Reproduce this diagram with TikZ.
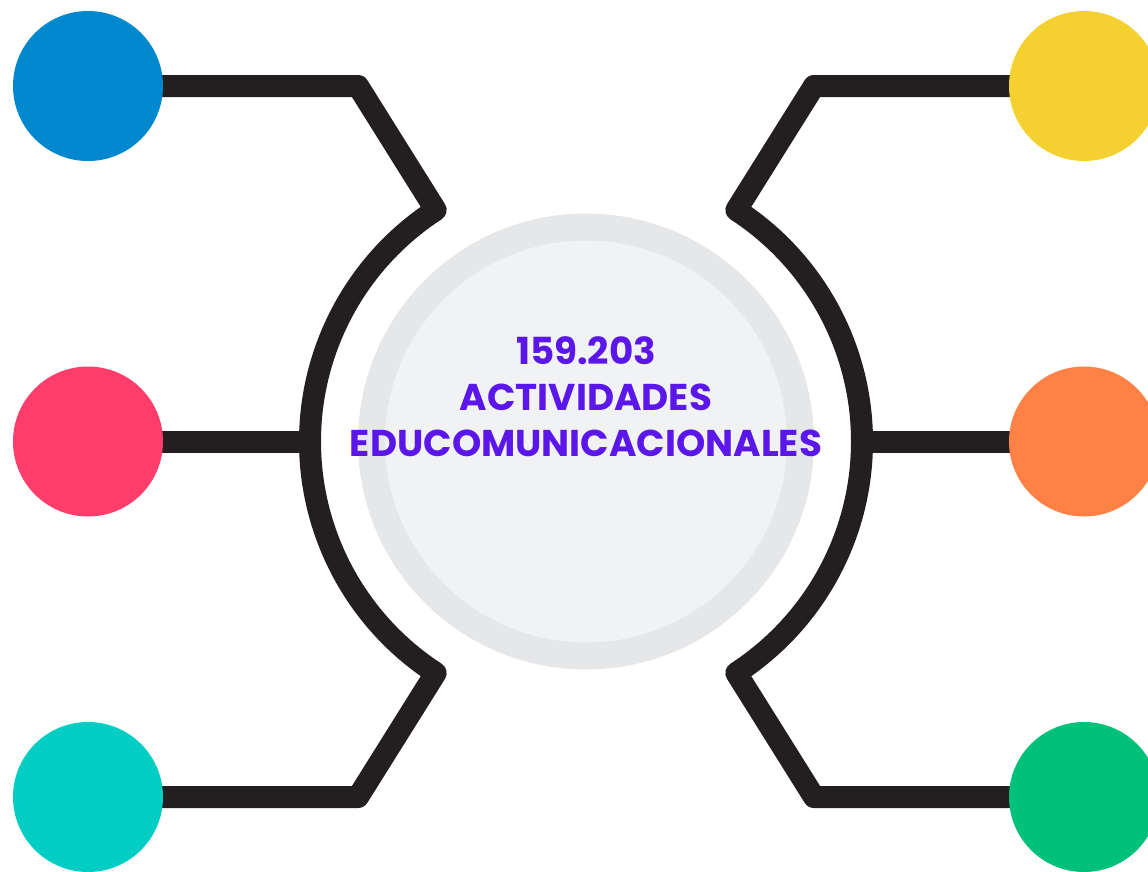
\documentclass[tikz,border=0pt]{standalone}
\usepackage{fontspec}
\usetikzlibrary{calc}
\setmainfont{Poppins}
\definecolor{linec}{HTML}{231F20}
\definecolor{ringc}{HTML}{E6E7E9}
\definecolor{innerc}{HTML}{F1F2F4}
\definecolor{cblue}{HTML}{0088CE}
\definecolor{cpink}{HTML}{FF3D6A}
\definecolor{cteal}{HTML}{00CDC3}
\definecolor{cyellow}{HTML}{F4D031}
\definecolor{corange}{HTML}{FF8146}
\definecolor{cgreen}{HTML}{00C17A}
\definecolor{ctext}{HTML}{5B16EA}
\begin{document}
\begin{tikzpicture}[x=1pt,y=-1pt,
  dot/.style={circle,minimum size=150pt,inner sep=0pt,draw=none},
  wire/.style={draw=linec,line width=22pt,line join=round},
  title/.style={text=ctext,font=\bfseries\fontsize{37.3}{37.3}\selectfont,inner sep=0pt,anchor=base}]
\useasboundingbox (0,0) rectangle (1148,871);
\clip (0,0) rectangle (1148,871);
% centre
\fill[ringc] (586,441.5) circle (228);
\fill[innerc] (586,441.5) circle (201);
\node[title] (t1) at (586,364.3) {159.203};
\node[title] (t2) at (586,410) {ACTIVIDADES};
\node[title] (t3) at (586,456.3) {EDUCOMUNICACIONALES};
% circles (nodes)
\node[dot] (b1) at (88,86) {};
\node[dot] (b2) at (88,441.5) {};
\node[dot] (b3) at (88,797) {};
\node[dot] (r1) at (1084,86) {};
\node[dot] (r2) at (1084,441.5) {};
\node[dot] (r3) at (1084,797) {};
% corner coordinates
\coordinate (lc1) at (358,86);
\coordinate (lt1) at ($(586,441.5)+(237:276)$);
\coordinate (lc3) at (358,797);
\coordinate (lm) at (310,441.5);
\coordinate (rc1) at (814,86);
\coordinate (rt1) at ($(586,441.5)+(303:276)$);
\coordinate (rc3) at (814,797);
\coordinate (rm) at (862,441.5);
% wires
\path[wire] (b1.center) -- (lc1) -- (lt1) arc[start angle=237,end angle=123,radius=276] -- (lc3) -- (b3.center);
\path[wire] (b2.center) -- (lm);
\path[wire] (r1.center) -- (rc1) -- (rt1) arc[start angle=-57,end angle=57,radius=276] -- (rc3) -- (r3.center);
\path[wire] (r2.center) -- (rm);
% coloured dots on top
\fill[cblue] (b1) circle (75);
\fill[cpink] (b2) circle (75);
\fill[cteal] (b3) circle (75);
\fill[cyellow] (r1) circle (75);
\fill[corange] (r2) circle (75);
\fill[cgreen] (r3) circle (75);
\end{tikzpicture}
\end{document}
